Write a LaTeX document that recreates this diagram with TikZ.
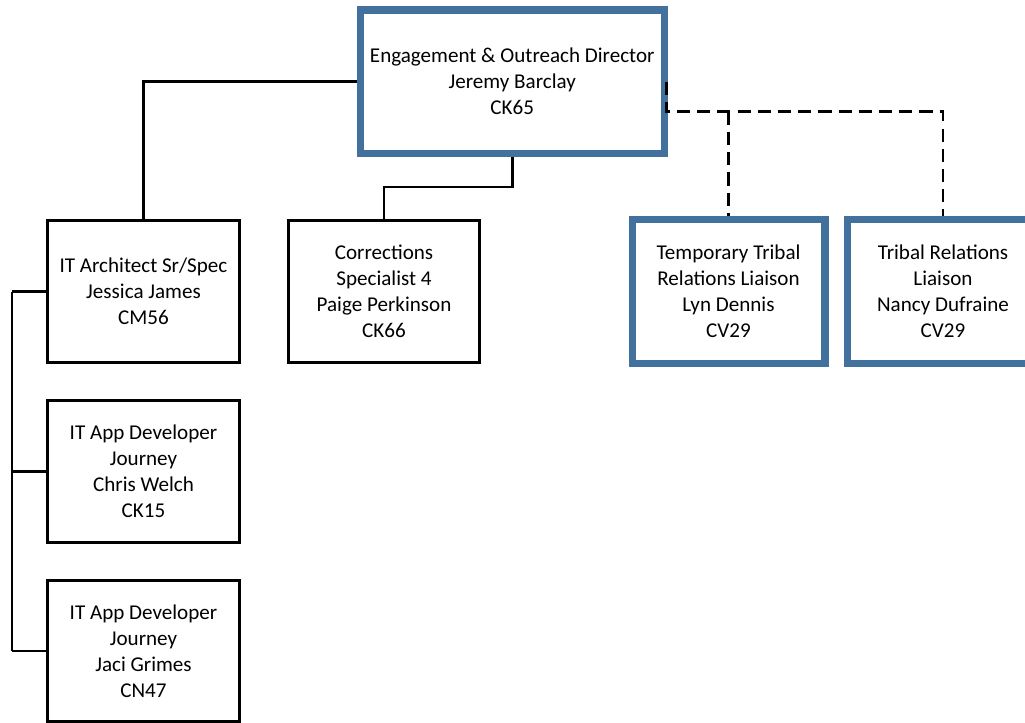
\documentclass[tikz,border=0pt]{standalone}
\usepackage{fontspec}
\setmainfont{Carlito}
\usetikzlibrary{calc,positioning}
\definecolor{boxblue}{RGB}{65,113,156}

\begin{document}
\begin{tikzpicture}[x=0.02cm, y=-0.02cm,
    card/.style={draw, line width=1.7pt, align=center, inner sep=2pt,
        minimum width=3.86cm, minimum height=2.86cm,
        font=\fontsize{12}{14.8}\selectfont},
    bluecard/.style={card, draw=boxblue, line width=4pt},
    link/.style={line width=1.5pt},
    dottedlink/.style={link, dash pattern=on 7.5pt off 4pt}]
\clip (0,0) rectangle (1025,723);
\useasboundingbox (0,0) rectangle (1025,723);

\node[bluecard, minimum width=6.09cm, minimum height=2.87cm] (dir) at ({512.25}, {81.75})
    {Engagement \& Outreach Director\\Jeremy Barclay\\CK65};

\node[card] (arch) at ({143.5}, {291.5}) {IT Architect Sr/Spec\\Jessica James\\CM56};
\node[card, minimum width=3.84cm] (corr) at ({384}, {291.5})
    {Corrections\\Specialist 4\\Paige Perkinson\\CK66};
\node[bluecard, minimum height=2.88cm] (temp) at ({728.5}, {291.5})
    {Temporary Tribal\\Relations Liaison\\Lyn Dennis\\CV29};
\node[bluecard, minimum width=3.84cm, minimum height=2.88cm] (trib) at ({943}, {291.5})
    {Tribal Relations\\Liaison\\Nancy Dufraine\\CV29};

\node[card] (devA) at ({143.5}, {471.5}) {IT App Developer\\Journey\\Chris Welch\\CK15};
\node[card, minimum height=2.84cm] (devB) at ({143.5}, {651}) {IT App Developer\\Journey\\Jaci Grimes\\CN47};

\draw[link] (dir.west) -| (arch.north);
\draw[link] (dir.south) -- ++(0,30) -| (corr.north);

\draw[dottedlink] ($(dir.east)+(-1.5,0)$) -- ++(0,30) coordinate (split) -| (trib.north);
\draw[dottedlink] (split -| temp.north) -- (temp.north);

\coordinate (bus) at (12,0);
\foreach \n in {arch,devA,devB}
{
    \draw[link]  (\n.west) -- (\n.west -| bus);
}
\draw[link] (arch.west -| bus) -- (devB.west -| bus);
\end{tikzpicture}
\end{document}
